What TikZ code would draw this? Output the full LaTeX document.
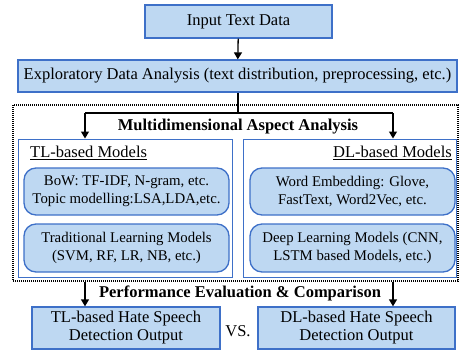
\documentclass[tikz,border=0pt]{standalone}
\usepackage{fontspec}
\setmainfont{Liberation Serif}
\usetikzlibrary{arrows.meta}
\definecolor{boxblue}{RGB}{62,112,200}
\definecolor{boxfill}{RGB}{190,216,242}
\begin{document}
\begin{tikzpicture}[x=1pt,y=-1pt,
  font=\fontsize{16.5}{18}\selectfont,
  sq/.style={draw=boxblue, fill=boxfill, line width=1.3pt, inner sep=0pt, align=center},
  rnd/.style={sq, rounded corners=12pt, font=\fontsize{14.8}{18}\selectfont},
  frame/.style={draw=boxblue, line width=1pt, inner sep=0pt},
  arr/.style={line width=1.3pt, -{Triangle[length=7pt,width=8pt]}},
  ln/.style={line width=1.3pt}]
\useasboundingbox (0,0) rectangle (459,351);
\node[sq, minimum width=187pt, minimum height=33pt] (inp) at (238.5,21.5) {Input Text Data};
\node[sq, minimum width=439pt, minimum height=32pt] (eda) at (237.5,76) {Exploratory Data Analysis (text distribution, preprocessing, etc.)};
\node[draw, line width=1.1pt, dash pattern=on 1pt off 1pt, minimum width=445pt, minimum height=176pt, inner sep=0pt] (dash) at (235.5,193) {};
\node[frame, minimum width=214pt, minimum height=138pt] (tlout) at (125,208) {};
\node[frame, minimum width=213pt, minimum height=138pt] (dlout) at (349.5,208) {};
\node[font=\fontsize{16.5}{18}\selectfont\bfseries] (mda) at (238,127) {Multidimensional Aspect Analysis};
\node[anchor=west, inner sep=0pt] (tlt) at (30,153) {\underline{TL-based Models}};
\node[anchor=east, inner sep=0pt] (dlt) at (452,153) {\underline{DL-based Models}};
\node[rnd, minimum width=205pt, minimum height=47pt] (bow) at (126.5,191.5) {BoW: TF-IDF, N-gram, etc.\\Topic modelling:LSA,LDA,etc.};
\node[rnd, minimum width=205pt, minimum height=48pt] (trad) at (126.5,248) {Traditional Learning Models\\(SVM, RF, LR, NB, etc.)};
\node[rnd, minimum width=205pt, minimum height=47pt] (we) at (352.5,191.5) {Word Embedding: Glove,\\FastText, Word2Vec, etc.};
\node[rnd, minimum width=205pt, minimum height=48pt] (dl) at (352.5,248) {Deep Learning Models (CNN,\\LSTM based Models, etc.)};
\node[font=\fontsize{16.5}{18}\selectfont\bfseries] (pec) at (240,293) {Performance Evaluation \& Comparison};
\node[sq, minimum width=188pt, minimum height=42pt] (outl) at (126,328) {TL-based Hate Speech\\Detection Output};
\node[sq, minimum width=197pt, minimum height=42pt] (outr) at (356.5,328) {DL-based Hate Speech\\Detection Output};
\node (vs) at (238,331) {VS.};
\coordinate (split) at (238,113);
\coordinate (ls) at (85,113);
\coordinate (rs) at (393,113);
\draw[arr] (inp) -- (eda);
\draw[ln] (eda.south -| split) -- (split);
\draw[ln] (ls) -- (rs);
\draw[arr] (ls) -- (tlout.north -| ls);
\draw[arr] (rs) -- (dlout.north -| rs);
\draw[arr] (dash.south -| ls) -- (outl.north -| ls);
\draw[arr] (dash.south -| rs) -- (outr.north -| rs);
\end{tikzpicture}
\end{document}
